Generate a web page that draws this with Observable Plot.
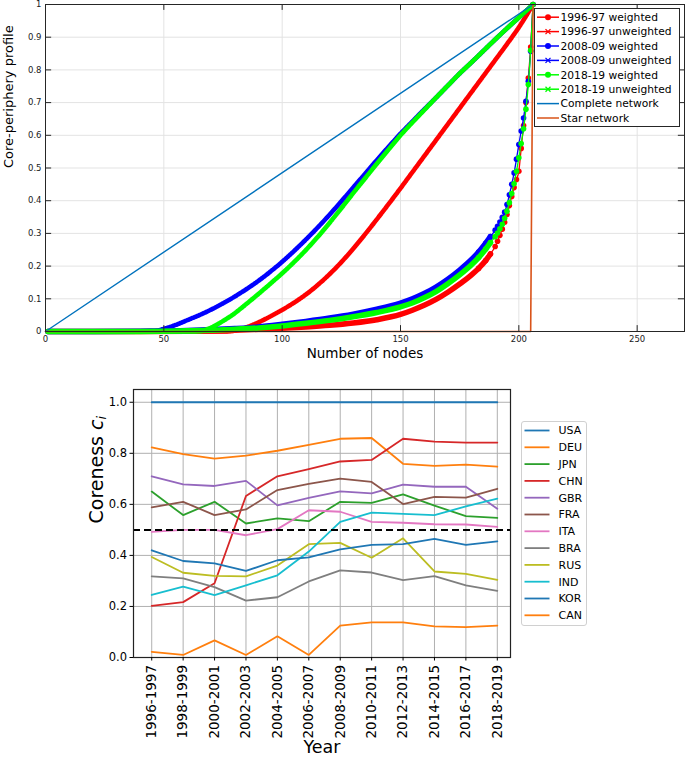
<!DOCTYPE html>
<html><head><meta charset="utf-8">
<script src="https://cdn.jsdelivr.net/npm/d3@7"></script>
<script src="https://cdn.jsdelivr.net/npm/@observablehq/plot@0.6"></script>
<style>
body{margin:0;background:#fff;font-family:"DejaVu Sans",sans-serif;}
#wrap{position:relative;width:685px;height:759px;overflow:hidden;background:#fff;}
#top{position:absolute;left:0;top:0;}
#bottom{position:absolute;left:0;top:380px;}
.lg{position:absolute;background:#fff;box-sizing:border-box;}
</style></head><body>
<div id="wrap"><div id="top"></div><div id="bottom"></div><div id="lgTop" class="lg"></div><div id="lgBot" class="lg"></div></div>
<script>
// ---------- Top panel data ----------
const nodesW = [1,20,40,60,80,90,100,110,120,130,140,150,155,160,165,170,175,180,183,186,188,190,191,192,193,194,195,196,197,198,199,200,201,202,203,204,205,206];
const w9697 = [0,0,0,0.001,0.004,0.007,0.010,0.014,0.019,0.026,0.036,0.052,0.065,0.080,0.098,0.120,0.145,0.173,0.193,0.217,0.237,0.260,0.276,0.294,0.313,0.334,0.358,0.385,0.413,0.440,0.465,0.490,0.560,0.630,0.700,0.775,0.870,1];
const w0809 = [0,0,0.001,0.003,0.009,0.014,0.022,0.031,0.041,0.053,0.068,0.087,0.100,0.116,0.136,0.160,0.188,0.220,0.243,0.270,0.290,0.310,0.322,0.335,0.349,0.365,0.388,0.418,0.450,0.485,0.527,0.572,0.613,0.653,0.704,0.765,0.857,1];
const w1819 = [0,0,0,0.002,0.007,0.011,0.017,0.025,0.034,0.045,0.058,0.075,0.087,0.103,0.122,0.146,0.173,0.204,0.226,0.252,0.272,0.290,0.301,0.314,0.328,0.346,0.368,0.394,0.422,0.452,0.490,0.531,0.575,0.620,0.680,0.755,0.860,1];
const nodesU = [1,40,45,50,55,60,65,70,75,80,85,90,95,100,105,110,115,120,125,130,135,140,145,150,155,160,165,170,175,180,185,190,195,200,206];
const u9697 = [0,0,0,0,0,0,0,0,0,0.003,0.013,0.028,0.046,0.066,0.088,0.113,0.142,0.175,0.212,0.253,0.297,0.343,0.390,0.438,0.487,0.536,0.585,0.634,0.683,0.732,0.781,0.830,0.879,0.930,1];
const u0809 = [0,0,0,0.008,0.020,0.035,0.050,0.067,0.086,0.107,0.130,0.155,0.183,0.213,0.246,0.281,0.318,0.357,0.398,0.440,0.482,0.524,0.565,0.605,0.642,0.679,0.715,0.752,0.789,0.823,0.858,0.893,0.927,0.960,1];
const u1819 = [0,0,0,0,0,0,0.001,0.012,0.032,0.056,0.085,0.115,0.146,0.178,0.212,0.249,0.289,0.332,0.377,0.423,0.468,0.513,0.557,0.600,0.639,0.677,0.715,0.752,0.789,0.823,0.858,0.893,0.927,0.960,1];
const completeNodes = [0,206];
const completeVals = [0,1];
const starNodes = [0,205,206];
const starVals = [0,0,1];
const xTicksTop = [0,50,100,150,200,250];
const yTicksTop = [0,0.1,0.2,0.3,0.4,0.5,0.6,0.7,0.8,0.9,1];
const topLabels = ["1996-97 weighted","1996-97 unweighted","2008-09 weighted","2008-09 unweighted","2018-19 weighted","2018-19 unweighted","Complete network","Star network"];

// ---------- Bottom panel data ----------
const years = ["1996-1997","1998-1999","2000-2001","2002-2003","2004-2005","2006-2007","2008-2009","2010-2011","2012-2013","2014-2015","2016-2017","2018-2019"];
const countries = ["USA","DEU","JPN","CHN","GBR","FRA","ITA","BRA","RUS","IND","KOR","CAN"];
const USA = [1,1,1,1,1,1,1,1,1,1,1,1];
const DEU = [0.823,0.797,0.779,0.791,0.810,0.833,0.857,0.860,0.759,0.751,0.756,0.748];
const JPN = [0.650,0.558,0.610,0.525,0.545,0.534,0.610,0.606,0.639,0.595,0.554,0.547];
const CHN = [0.202,0.217,0.291,0.633,0.710,0.738,0.768,0.774,0.857,0.846,0.842,0.842];
const GBR = [0.710,0.678,0.672,0.692,0.596,0.625,0.651,0.643,0.677,0.669,0.669,0.583];
const FRA = [0.588,0.610,0.558,0.580,0.656,0.680,0.701,0.688,0.601,0.629,0.626,0.661];
const ITA = [0.492,0.500,0.500,0.479,0.503,0.577,0.571,0.531,0.528,0.522,0.521,0.512];
const BRA = [0.318,0.310,0.276,0.223,0.236,0.298,0.341,0.333,0.303,0.319,0.283,0.261];
const RUS = [0.394,0.332,0.320,0.318,0.360,0.444,0.449,0.391,0.467,0.337,0.328,0.304];
const IND = [0.245,0.278,0.244,0.283,0.322,0.415,0.531,0.568,0.563,0.558,0.592,0.622];
const KOR = [0.420,0.378,0.369,0.339,0.381,0.392,0.424,0.441,0.444,0.465,0.441,0.455];
const CAN = [0.022,0.010,0.067,0.010,0.083,0.010,0.125,0.138,0.138,0.122,0.119,0.125];
const threshold = 0.5;
const yTicksBot = [0,0.2,0.4,0.6,0.8,1.0];

// ---------- Top panel ----------
const RED="#ff0000", BLUE="#0000ff", GREEN="#00ff00", COMP="#0072BD", STAR="#D95319";
const mk = (nodes, vals) => nodes.map((n,i)=>({n, v: vals[i]}));
const W = [[mk(nodesW,w9697),RED],[mk(nodesW,w0809),BLUE],[mk(nodesW,w1819),GREEN]];
const U = [[mk(nodesU,u9697),RED],[mk(nodesU,u0809),BLUE],[mk(nodesU,u1819),GREEN]];
const CV = "monotone-x";

const topMarks = [
  Plot.gridX(xTicksTop, {stroke:"#e3e3e3", strokeOpacity:1}),
  Plot.gridY(yTicksTop, {stroke:"#e3e3e3", strokeOpacity:1})
];
for (let k=0;k<3;k++){
  const [wd,c]=W[k], [ud]=U[k];
  topMarks.push(
    Plot.line(wd.filter(d=>d.n<=188), {x:"n", y:"v", stroke:c, strokeWidth:5.5, strokeLinecap:"round", curve:CV}),
    Plot.line(wd, {x:"n", y:"v", stroke:c, strokeWidth:1.3, curve:CV}),
    Plot.dot(wd.filter(d=>d.n>=183), {x:"n", y:"v", fill:c, r:2.8}),
    Plot.line(ud, {x:"n", y:"v", stroke:c, strokeWidth:1.4, curve:CV}),
    Plot.line(ud, {x:"n", y:"v", stroke:c, strokeWidth:4.6, strokeDasharray:"1.6,1.0", curve:CV})
  );
}
topMarks.push(
  Plot.line(mk(completeNodes,completeVals), {x:"n", y:"v", stroke:COMP, strokeWidth:1.4}),
  Plot.line(mk(starNodes,starVals), {x:"n", y:"v", stroke:STAR, strokeWidth:1.6}),
  Plot.frame({stroke:"#262626", strokeWidth:1}),
  Plot.ruleX(xTicksTop.slice(1), {x:d=>d, y1:0, y2:0.018, stroke:"#262626"}),
  Plot.ruleX(xTicksTop.slice(1), {x:d=>d, y1:1, y2:0.982, stroke:"#262626"}),
  Plot.ruleY(yTicksTop.slice(1,-1), {y:d=>d, x1:0, x2:2.6, stroke:"#262626"}),
  Plot.ruleY(yTicksTop.slice(1,-1), {y:d=>d, x1:270, x2:267.4, stroke:"#262626"}),
  Plot.axisX(xTicksTop, {tickSize:0, tickPadding:4, fontSize:8.5, label:null}),
  Plot.axisY(yTicksTop, {tickSize:0, tickPadding:4, fontSize:8.5, label:null, tickFormat:d=>String(+d.toFixed(1))}),
  Plot.text(["Number of nodes"], {frameAnchor:"bottom", dy:26, fontSize:13.5, fill:"#000"}),
  Plot.text(["Core-periphery profile"], {frameAnchor:"left", dx:-37, rotate:-90, fontSize:13, fill:"#000"})
);

const topPlot = Plot.plot({
  width:685, height:370, marginLeft:45, marginRight:1, marginTop:4, marginBottom:39,
  x:{domain:[0,270]}, y:{domain:[0,1]},
  style:{fontFamily:"DejaVu Sans", color:"#1a1a1a", background:"transparent"},
  marks: topMarks
});
document.getElementById("top").appendChild(topPlot);

// Top legend
(function(){
  const box = d3.select("#lgTop").style("left","534px").style("top","8px").style("width","146px").style("height","119px").style("border","1px solid #262626");
  const svg = box.append("svg").attr("width",144).attr("height",117).style("display","block");
  const cols=[RED,RED,BLUE,BLUE,GREEN,GREEN,COMP,STAR];
  topLabels.forEach((lab,i)=>{
    const y=8.2+i*14.4, c=cols[i];
    svg.append("line").attr("x1",2).attr("x2",24).attr("y1",y).attr("y2",y).attr("stroke",c).attr("stroke-width",1.5);
    if(i<6){
      if(i%2===0) svg.append("circle").attr("cx",13).attr("cy",y).attr("r",3).attr("fill",c);
      else svg.append("path").attr("d",`M${10.5},${y-2.5}L${15.5},${y+2.5}M${10.5},${y+2.5}L${15.5},${y-2.5}`).attr("stroke",c).attr("stroke-width",1.3);
    }
    svg.append("text").attr("x",25.5).attr("y",y).attr("dy","0.36em").attr("font-size","10.7px").attr("font-family","DejaVu Sans").attr("fill","#000").text(lab);
  });
})();

// ---------- Bottom panel ----------
const colors = ["#1f77b4","#ff7f0e","#2ca02c","#d62728","#9467bd","#8c564b","#e377c2","#7f7f7f","#bcbd22","#17becf","#1f77b4","#ff7f0e"];
const vals = {USA,DEU,JPN,CHN,GBR,FRA,ITA,BRA,RUS,IND,KOR,CAN};
const botMarks = [
  Plot.gridX(d3.range(years.length), {stroke:"#b0b0b0", strokeOpacity:1, strokeWidth:1}),
  Plot.gridY(yTicksBot, {stroke:"#b0b0b0", strokeOpacity:1, strokeWidth:1})
];
countries.forEach((c,k)=>{
  const rows = vals[c].map((v,i)=>({i, v}));
  botMarks.push(Plot.line(rows, {x:"i", y:"v", stroke:colors[k], strokeWidth:1.8}));
});
botMarks.push(
  Plot.ruleY([threshold], {stroke:"#000", strokeWidth:2, strokeDasharray:"7,4"}),
  Plot.frame({stroke:"#222", strokeWidth:1.2}),
  Plot.axisY(yTicksBot, {tickSize:3.5, tickPadding:3, fontSize:11.5, label:null, tickFormat:d3.format(".1f")}),
  Plot.axisX(d3.range(years.length), {tickSize:3.5, tickPadding:4, fontSize:13.5, tickRotate:-90, label:null, tickFormat:i=>years[i]}),
  Plot.text(["Year"], {frameAnchor:"bottom", dy:95, fontSize:17.5, fill:"#000"}),
  Plot.text(["Coreness c_i"], {frameAnchor:"left", dx:-37, rotate:-90, fontSize:19, fill:"#000"})
);
const botPlot = Plot.plot({
  width:685, height:379, marginLeft:133, marginRight:175, marginTop:9, marginBottom:102,
  x:{type:"linear", domain:[-0.58,11.42]}, y:{domain:[0,1.05]},
  style:{fontFamily:"DejaVu Sans", color:"#000", background:"transparent"},
  marks: botMarks
});
document.getElementById("bottom").appendChild(botPlot);
d3.select(botPlot).selectAll("text").filter(function(){return this.textContent==="Coreness c_i";}).each(function(){
  const t=d3.select(this); t.text(null);
  t.append("tspan").text("Coreness ");
  t.append("tspan").attr("font-style","italic").text("c");
  t.append("tspan").attr("font-style","italic").attr("font-size","13px").attr("dy","0.3em").text("i");
});

// Bottom legend
(function(){
  const box = d3.select("#lgBot").style("left","521px").style("top","421px").style("width","66px").style("height","205px").style("border","1px solid #d0d0d0").style("border-radius","3px");
  const svg = box.append("svg").attr("width",64).attr("height",203).style("display","block");
  countries.forEach((c,i)=>{
    const y=8.5+i*16.8;
    svg.append("line").attr("x1",2.5).attr("x2",27.5).attr("y1",y).attr("y2",y).attr("stroke",colors[i]).attr("stroke-width",1.8);
    svg.append("text").attr("x",36.5).attr("y",y).attr("dy","0.36em").attr("font-size","11px").attr("font-family","DejaVu Sans").attr("fill","#000").text(c);
  });
})();
</script>
</body></html>
